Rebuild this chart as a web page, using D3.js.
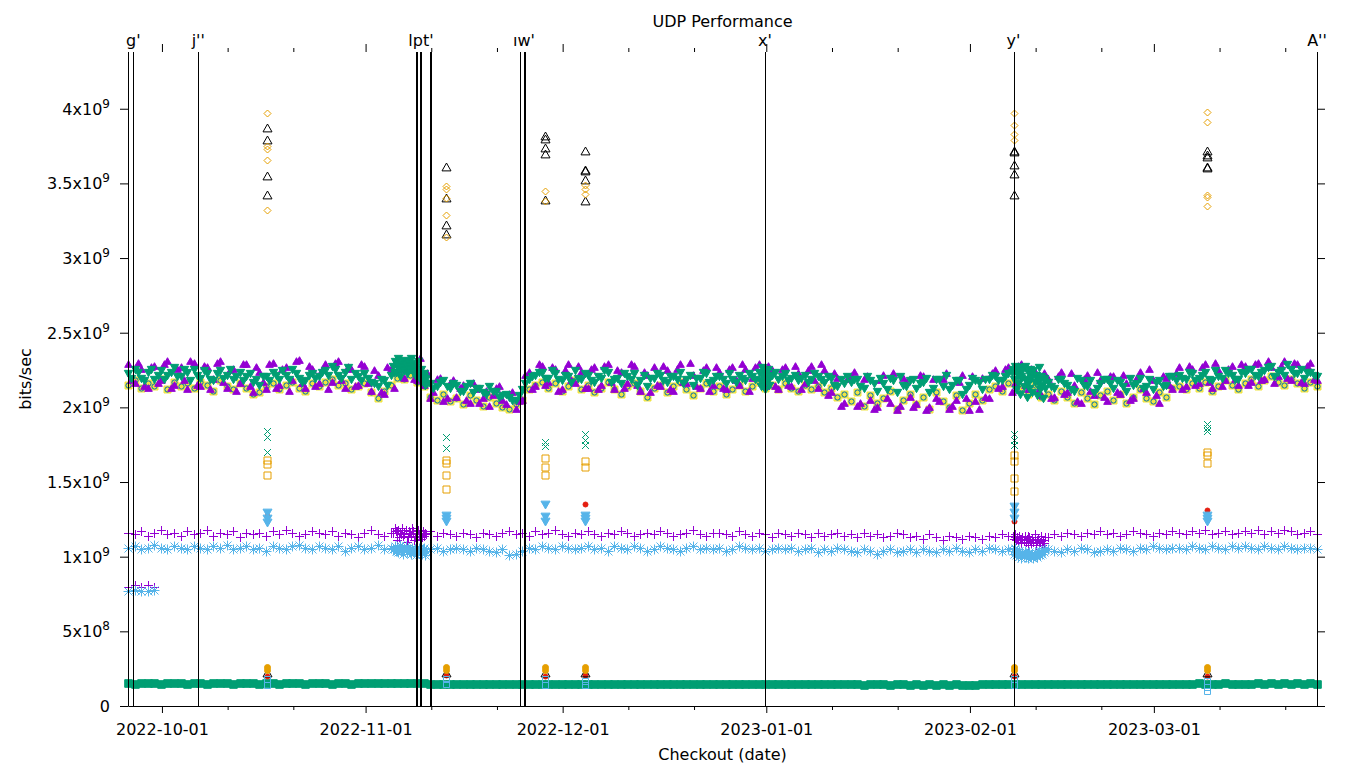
<!DOCTYPE html>
<html><head><meta charset="utf-8">
<script src="https://cdn.jsdelivr.net/npm/d3@7"></script>
<style>body{margin:0;background:#fff}svg text{font-family:"DejaVu Sans",sans-serif}</style>
</head><body>
<svg id="c" width="1360" height="768"></svg>
<script>
// ---------------- DATA ----------------
const UNIT = 1e7;                       // all values below are in units of 10 Mbit/s
const xStart = "2022-09-25T20:00", xEnd = "2023-03-25T20:00";
const yMax = 4.38e9;
const yTicks = [0, 5e8, 1e9, 1.5e9, 2e9, 2.5e9, 3e9, 3.5e9, 4e9];
const title = "UDP Performance", xLabel = "Checkout (date)", yLabel = "bits/sec";

// nightly checkouts (evening run), one value per day starting at bandStart
const bandStart = "2022-09-25T20:00";
const greenMain = [
223,226,220,224,219,225,222,227,221,224, 226,220,223,218,225,222,219,224,221,217,
215,221,224,219,222,226,220,218,223,221, 225,228,222,224,219,221,223,217,214,218,
222,228,226,229,224,221,216,214,218,213, 215,211,216,213,210,214,211,208,207,205,
212,219,222,224,220,223,218,221,225,219, 222,217,220,224,219,216,221,223,218,214,
220,222,217,221,224,219,215,220,223,218, 221,216,219,222,218,221,224,220,222,219,
223,220,218,222,219,221,217,220,214,216, 217,219,213,218,211,216,220,210,215,218,
213,217,210,219,214,212,218,209,215,218, 212,219,221,218,223,225,220,216,222,214,
217,213,219,215,211,218,214,210,216,219, 213,217,211,215,220,214,212,218,215,221,
222,219,223,220,224,218,221,225,222,219, 223,226,221,225,228,224,222,226,223,220,
224,221];
const purpleMain = [
229,216,226,213,228,218,231,215,227,212, 230,214,227,219,231,213,226,216,229,210,
224,212,230,215,227,218,232,213,226,216, 229,217,231,213,226,215,228,211,222,209,
226,232,220,230,218,215,206,219,204,216, 207,215,203,212,206,201,213,205,209,199,
205,224,214,228,217,226,212,229,216,224, 213,227,215,229,212,224,216,228,211,222,
227,214,225,211,229,216,222,213,227,215, 224,212,227,215,226,220,229,214,225,212,
227,214,223,216,228,213,225,210,220,203, 221,201,219,205,200,222,203,198,220,207,
202,221,200,206,219,199,205,222,198,204, 220,206,225,214,227,216,229,212,224,208,
219,207,224,210,215,203,222,208,218,204, 221,209,216,206,224,210,218,203,220,212,
227,214,226,216,229,213,225,218,228,215, 228,217,230,219,227,221,231,218,229,216,
230,218];
// morning run, one value per day starting at bandStart2
const bandStart2 = "2022-09-26T08:00";
const greenMain2 = [
220,224,218,226,222,219,224,221,226,218, 222,225,219,223,220,226,221,218,223,219,
221,218,222,225,219,223,217,222,220,224, 222,226,220,227,223,218,220,216,219,215,
224,226,228,225,222,216,213,217,214,216, 211,214,210,213,209,211,207,209,205,208,
216,221,224,220,225,219,222,217,220,223, 218,221,225,217,220,223,219,215,222,220,
223,218,221,219,216,222,220,224,217,221, 219,223,217,220,223,219,222,218,224,221,
218,222,220,217,223,219,221,215,219,221, 219,214,221,216,220,212,218,221,214,219,
216,220,213,219,222,215,218,212,220,217, 219,222,218,221,224,222,219,223,217,220,
214,219,216,212,220,215,218,213,219,216, 218,214,220,216,213,219,217,214,221,218,
220,224,218,222,219,225,220,223,219,224, 226,222,224,227,221,225,229,223,226,224,
222];
const purpleMain2 = [
218,230,214,227,216,229,213,226,218,231, 215,228,212,230,217,225,211,229,214,227,
217,229,213,226,211,231,216,228,214,225, 212,230,218,227,214,229,216,225,210,227,
213,226,231,219,233,223,210,220,206,218, 213,205,216,203,211,208,214,202,210,204,
222,212,229,215,227,211,225,218,228,213, 226,212,228,217,225,213,229,215,224,210,
215,228,212,226,217,230,214,225,211,227, 213,226,218,229,211,227,216,228,214,226,
215,228,212,225,218,229,208,223,201,219, 224,203,221,199,218,206,223,201,217,200,
222,198,219,204,223,201,217,206,221,199, 207,223,213,226,210,228,215,226,211,223,
206,221,209,223,204,219,211,224,207,221, 210,222,205,219,213,226,208,221,215,223,
212,228,215,227,217,230,214,226,219,229, 215,229,218,231,216,228,220,230,217,228,
219];
const yellowMain = [   // yellow squares; the blue circles coincide with them
215,218,213,216,214,219,212,217,214,216, 213,217,215,211,218,214,212,216,213,209,
210,214,216,212,215,217,213,211,216,214, 217,219,215,216,212,214,216,210,206,211,
215,220,219,222,217,214,207,205,209,204, 206,202,208,205,201,207,203,200,199,202,
205,212,215,217,213,216,211,214,218,212, 215,210,213,217,212,209,214,216,211,207,
213,215,210,214,217,212,208,213,216,211, 214,209,212,215,211,214,217,213,215,212,
216,213,211,215,212,214,210,213,207,209, 204,210,201,208,203,206,211,199,205,209,
202,207,199,210,204,200,208,198,203,209, 205,212,214,211,216,218,213,209,215,207,
209,205,211,207,203,210,206,202,208,211, 205,209,203,207,212,206,204,210,207,213,
214,212,216,213,217,211,214,218,215,212, 216,219,214,218,221,217,215,219,216,213,
217,214];
const purplePlus = [
116,115,117,114,116,118,115,116,114,117, 115,116,118,114,116,115,117,113,116,115,
116,114,117,115,118,116,114,115,117,116, 115,117,114,116,115,113,116,118,115,114,
116,117,115,116,114,115,117,114,116,115, 114,116,115,113,116,115,114,116,117,115,
116,114,117,115,116,118,115,114,116,115, 117,115,114,116,115,117,116,114,115,116,
115,117,116,114,115,116,118,115,114,116, 116,115,114,117,115,114,116,115,113,116,
115,114,116,115,113,116,114,115,116,114, 115,113,116,114,115,113,114,116,115,113,
114,112,115,113,111,114,113,112,114,113, 112,114,113,115,114,113,112,114,115,114,
113,115,114,116,115,114,116,115,117,115, 116,114,115,117,116,115,114,116,115,117,
116,115,117,116,118,115,116,117,115,116, 117,116,118,115,117,116,118,117,115,116,
117,115];
const blueStar = [
106,107,105,106,108,106,105,107,106,105, 107,106,105,107,106,108,105,106,107,105,
106,104,107,106,105,107,108,106,105,107, 106,105,107,104,106,107,105,106,108,105,
106,104,105,103,104,106,105,106,104,105, 106,105,104,106,105,104,103,105,101,102,
104,106,105,107,106,105,107,106,105,106, 107,105,106,104,107,106,105,107,106,104,
105,107,106,105,104,106,107,105,106,105, 106,104,105,107,106,105,106,104,105,106,
105,106,104,105,106,103,105,104,106,105, 104,103,105,104,102,104,105,103,104,105,
103,105,104,103,105,104,106,104,103,105, 104,106,105,104,105,106,101,102,103,104,
105,104,103,105,104,106,105,103,104,105, 104,106,105,104,106,105,107,106,105,106,
106,105,107,106,105,107,106,105,107,106, 107,106,105,107,106,105,107,106,105,106,
106,105];
const greenLow = [
15.2,15.0,15.3,15.1,15.2,15.0,15.1,15.3,15.2,15.0, 15.1,15.2,15.0,15.3,15.1,15.2,15.0,15.1,15.2,15.3,
15.0,15.2,15.1,15.0,15.2,15.1,15.3,15.0,15.1,15.2, 15.1,15.0,15.2,15.1,15.0,15.2,15.1,15.3,15.1,15.2,
15.3,15.5,15.6,15.4,15.7,15.2,14.8,14.6,14.9,14.7, 14.8,14.6,14.7,14.9,14.5,14.7,14.6,14.8,14.4,14.6,
14.7,14.9,14.8,14.6,14.7,14.9,14.8,15.0,14.7,14.8, 14.9,14.7,14.8,15.0,14.8,14.7,14.9,14.8,14.6,14.8,
14.7,14.9,14.8,14.7,14.9,14.8,14.6,14.8,14.9,14.7, 14.8,14.6,14.8,14.9,14.7,14.8,15.0,14.8,14.9,14.7,
14.8,14.9,14.7,14.6,14.8,14.7,14.5,14.7,14.6,14.4, 14.6,14.5,14.3,14.5,14.4,14.6,14.3,14.4,14.5,14.3,
14.4,14.2,14.4,14.3,14.5,14.2,14.4,14.3,14.1,14.3, 14.4,14.6,14.8,14.5,14.9,15.0,14.8,14.9,14.7,14.8,
14.9,14.8,14.6,14.8,14.7,14.9,14.8,14.6,14.8,15.0, 14.9,14.7,14.8,15.0,14.9,14.7,14.8,14.9,15.0,14.8,
14.9,15.0,14.8,15.1,14.9,15.0,14.8,15.1,15.0,14.9, 15.0,14.9,15.1,15.0,15.2,14.9,15.1,15.0,15.1,15.0,
15.1,15.0];
const earlyPlus = [80, 81, 80, 81, 80];
const earlyStar = [77, 78, 77, 77, 78];

// dense bursts of checkouts
const novStart = "2022-11-05T06:00", novStepHours = 4;
const novGreen = [228,231,224,229,233,226,221,230,227,232,225,229,223,231,228,226,233,230,224,228,222,227,231,225,219,226,221,217,223,215,220];
const novPlus  = [116,119,117,111,118,113,116,115,119,114,116,118,110,113,117,116,114,119,117,111,113,115,118,114,116,112,113,117,114,116,115];
const novStar  = [105,107,104,106,103,105,108,104,106,102,105,107,103,106,104,105,102,106,104,103,105,101,104,106,103,104,102,105,103,101,104];
const janStart = "2022-12-31T00:00", janStepHours = 3;
const janGreen = [218,224,214,227,221,216,225,212,222,219,226,215,221];
const febStart = "2023-02-07T12:00", febStepHours = 4;
const febGreen = [226,219,228,212,223,216,227,209,221,225,214,228,218,207,224,213,226,220,210,225,217,222,208,219,227,212,221,215,206,218,213];
const febPlus  = [114,112,115,111,113,110,114,112,109,113,111,114,110,112,108,113,111,109,112,110,113,108,111,112,109,110,112,108,111,109,113];
const febStar  = [104,102,105,101,103,100,104,102,99,103,101,104,100,102,99,103,101,100,102,99,103,101,100,102,104,101,103,102,104,103,105];

// special checkouts with different results
const outlierDates = ["2022-10-16T23:50","2022-11-13T05:50","2022-11-28T07:30","2022-12-04T09:40","2023-02-07T17:00","2023-03-09T02:10"];
const blackTri   = [[387,379,355,342],[361,340,322,316],[382,380,374,370,339],[372,359,358,352,338],[372,371,362,356,342],[372,369,368,361,360]];
const orangeDiam = [[397,375,373,366,332],[348,346,340,329,314],[345,338],[349,346,343],[397,389,383,379],[398,391,342,341,335]];
const greenX     = [[184,180,170],[180,173],[177,174],[182,178,175],[182,178,175],[189,186,184]];
const orangeSq   = [[165,162,155],[165,163,155,145],[166,160,155],[164,160],[168,164,153,144],[170,168,163]];
const blueITri   = [[130,126,123],[128,126,124],[135,127,124],[128,126,124],[134,130,126],[128,126,124]];
const redDot     = [[127,20],[21],[20],[135,21],[124,20],[131,20]];
const blackTriLow= [[22],[22],[22],[22],[22],[22]];
const orangeLow  = [[26,24],[26,24],[26,24],[26,24],[26,24],[26,24]];
const blueSqLow  = [[18,14],[18,15],[18,14],[17,14],[18,14],[17,13,10]];

// tagged checkouts (vertical markers); label text as it reads in the figure
const events = [
 ["2022-09-26T15:20","g'"],["2022-10-06T12:50","j''"],
 ["2022-11-08T16:00",""],["2022-11-08T20:00",""],["2022-11-09T05:00",""],["2022-11-09T10:30","lpt'"],
 ["2022-11-10T19:20",""],["2022-11-10T23:00",""],
 ["2022-11-24T12:00",""],["2022-11-25T02:50","ıw'"],["2022-11-25T06:30",""],
 ["2022-12-31T19:20","x'"],["2023-02-07T15:10","y'"],["2023-03-25T20:00","A''"]];

// ---------------- CHART ----------------
const parse = d3.utcParse("%Y-%m-%dT%H:%M");
const svg = d3.select("#c");
const L = 128, R = 1317, T = 52, B = 706;
const x = d3.scaleUtc().domain([parse(xStart), parse(xEnd)]).range([L, R]);
const y = d3.scaleLinear().domain([0, yMax]).range([B, T]);

const C = {purple:"#9400d3", green:"#009e73", lblue:"#56b4e9", orange:"#e69f00",
           yellow:"#f0e442", blue:"#0072b2", red:"#e51e10", black:"#000000"};
function symPath(t, s){
  const h = s*0.8;
  switch(t){
    case "plus": return `M${-s},0H${s}M0,${-s}V${s}`;
    case "cross": return `M${-s},${-s}L${s},${s}M${-s},${s}L${s},${-s}`;
    case "star": return `M${-s},0H${s}M0,${-s}V${s}M${-h},${-h}L${h},${h}M${-h},${h}L${h},${-h}`;
    case "square": return `M${-s},${-s}H${s}V${s}H${-s}Z`;
    case "circle": return `M${s},0A${s},${s} 0 1 1 ${-s},0A${s},${s} 0 1 1 ${s},0Z`;
    case "tri": return `M0,${-s}L${s},${s*0.75}H${-s}Z`;
    case "itri": return `M0,${s}L${s},${-s*0.75}H${-s}Z`;
    case "diamond": return `M0,${-s}L${s},0L0,${s}L${-s},0Z`;
  }
}
const layers = [];
function layer(style){ const l = {style, pts:[]}; layers.push(l); return l; }
function daily(l, arr, start){ const s = parse(start || bandStart); arr.forEach((v,i)=>l.pts.push([d3.utcDay.offset(s,i), v*UNIT])); }
function burst(l, start, step, arr){ const s = parse(start); arr.forEach((v,i)=>l.pts.push([d3.utcHour.offset(s,i*step), v*UNIT])); }
function special(l, arrs){ arrs.forEach((vs,k)=>vs.forEach(v=>l.pts.push([parse(outlierDates[k]), v*UNIT]))); }

let l;
l = layer({sym:"plus", s:4.5, c:C.purple}); daily(l, purplePlus); daily(l, earlyPlus); burst(l, novStart, novStepHours, novPlus); burst(l, febStart, febStepHours, febPlus);
l = layer({sym:"square", s:3.8, c:C.green, fill:true}); daily(l, greenLow);
l = layer({sym:"cross", s:3.5, c:C.green}); special(l, greenX);
l = layer({sym:"star", s:5, c:C.lblue}); daily(l, blueStar); daily(l, earlyStar); burst(l, novStart, novStepHours, novStar); burst(l, febStart, febStepHours, febStar);
l = layer({sym:"square", s:3.5, c:C.orange}); special(l, orangeSq);
l = layer({sym:"square", s:3.5, c:C.yellow, fill:true}); daily(l, yellowMain);
l = layer({sym:"circle", s:2.6, c:C.blue}); daily(l, yellowMain);
l = layer({sym:"circle", s:2.5, c:C.red, fill:true}); special(l, redDot);
l = layer({sym:"tri", s:4.5, c:C.black}); special(l, blackTri); special(l, blackTriLow);
l = layer({sym:"tri", s:3.8, c:C.purple, fill:true}); daily(l, purpleMain); daily(l, purpleMain2, bandStart2);
l = layer({sym:"itri", s:4.2, c:C.green, fill:true}); daily(l, greenMain); daily(l, greenMain2, bandStart2);
   burst(l, novStart, novStepHours, novGreen); burst(l, janStart, janStepHours, janGreen); burst(l, febStart, febStepHours, febGreen);
l = layer({sym:"itri", s:4.5, c:C.lblue, fill:true}); special(l, blueITri);
l = layer({sym:"diamond", s:3.5, c:C.orange}); special(l, orangeDiam);
l = layer({sym:"circle", s:3, c:C.orange, fill:true}); special(l, orangeLow);
l = layer({sym:"square", s:3, c:C.lblue}); special(l, blueSqLow);

const gData = svg.append("g");
layers.forEach(ly=>{
  const st = ly.style, d = symPath(st.sym, st.s);
  gData.append("g").selectAll("path").data(ly.pts).join("path")
    .attr("d", d)
    .attr("transform", p=>`translate(${Math.round(x(p[0]))+0.5},${Math.round(y(p[1]))+0.5})`)
    .attr("fill", st.fill ? st.c : "none")
    .attr("stroke", st.c).attr("stroke-width", 1);
});

// event lines (drawn over the data)
const gEv = svg.append("g");
events.forEach(e=>{
  const xx = Math.round(x(parse(e[0]))) + 0.5;
  gEv.append("line").attr("x1",xx).attr("x2",xx).attr("y1",T).attr("y2",B)
     .attr("stroke","#000").attr("stroke-width",1);
});
svg.append("g").selectAll("text").data(events.filter(e=>e[1])).join("text")
  .attr("x",e=>x(parse(e[0]))).attr("y",46).attr("text-anchor","middle")
  .attr("font-size",16).attr("fill","#000").text(e=>e[1]);

// borders
svg.append("path").attr("d",`M${L+0.5},${T}V${B+0.5}H${R+0.5}V${T}`).attr("fill","none").attr("stroke","#000");

// x axes
const majors = d3.utcMonth.range(x.domain()[0], x.domain()[1]);
const minors = d3.utcDay.range(x.domain()[0], x.domain()[1]).filter(d=>[11,21].includes(d.getUTCDate()));
const fmt = d3.utcFormat("%Y-%m-%d");
function styleAxis(g){ g.select(".domain").remove(); g.attr("font-family",null).attr("font-size",16); g.selectAll("line").attr("stroke","#000"); }
svg.append("g").attr("transform",`translate(0,${B})`)
  .call(d3.axisBottom(x).tickValues(majors).tickFormat(fmt).tickSize(7))
  .call(styleAxis).call(g=>g.selectAll("text").attr("dy",null).attr("y",29).attr("fill","#000"));
svg.append("g").attr("transform",`translate(0,${B})`)
  .call(d3.axisBottom(x).tickValues(minors).tickFormat("").tickSize(4)).call(styleAxis);
svg.append("g").attr("transform",`translate(0,${T})`)
  .call(d3.axisTop(x).tickValues(majors).tickFormat("").tickSize(8)).call(styleAxis);
svg.append("g").attr("transform",`translate(0,${T})`)
  .call(d3.axisTop(x).tickValues(minors).tickFormat("").tickSize(4)).call(styleAxis);

// y axes
svg.append("g").attr("transform",`translate(${L},0)`)
  .call(d3.axisLeft(y).tickValues(yTicks).tickFormat("").tickSize(8)).call(styleAxis);
svg.append("g").attr("transform",`translate(${R},0)`)
  .call(d3.axisRight(y).tickValues(yTicks).tickFormat("").tickSize(8)).call(styleAxis);
const gy = svg.append("g");
yTicks.forEach(v=>{
  const t = gy.append("text").attr("x",110).attr("y",Math.round(y(v))+6).attr("text-anchor","end")
    .attr("font-size",16).attr("fill","#000");
  if(v===0){ t.text("0"); return; }
  const e = Math.floor(Math.log10(v)), m = +(v/Math.pow(10,e)).toFixed(1);
  t.append("tspan").text(`${m}x10`);
  t.append("tspan").attr("dy",-7).attr("font-size",12).text(e);
});

// titles
svg.append("text").attr("x",(L+R)/2).attr("y",27).attr("text-anchor","middle").attr("font-size",16).text(title);
svg.append("text").attr("x",(L+R)/2).attr("y",760).attr("text-anchor","middle").attr("font-size",16).text(xLabel);
svg.append("text").attr("transform",`translate(31,${(T+B)/2}) rotate(-90)`).attr("text-anchor","middle").attr("font-size",16).text(yLabel);
</script>
</body></html>
